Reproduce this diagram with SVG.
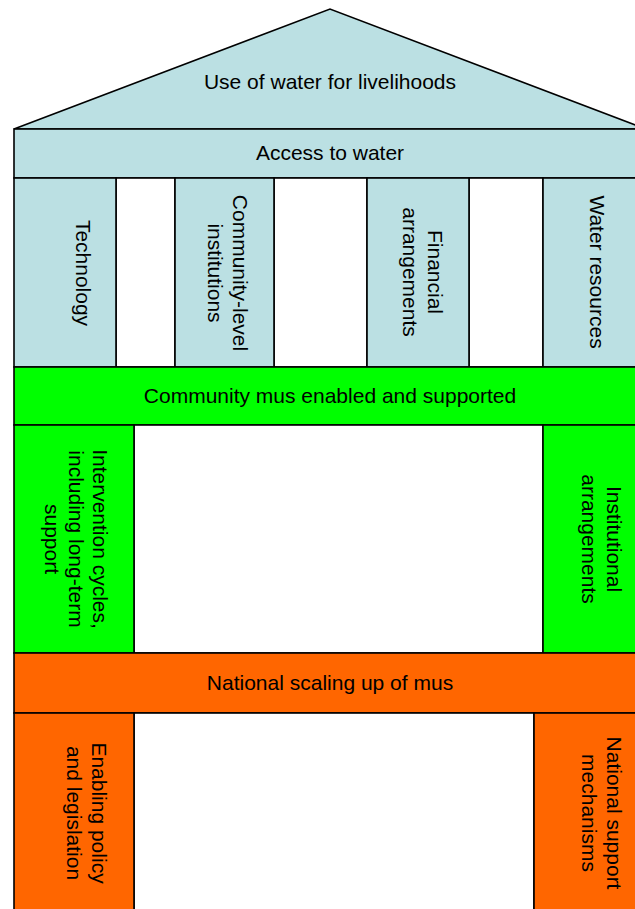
<svg xmlns="http://www.w3.org/2000/svg" width="635" height="909" viewBox="0 0 635 909">
<style>
.b{fill:#BBE0E3;stroke:#000;stroke-width:1.6}
.g{fill:#00FF00;stroke:#000;stroke-width:1.6}
.o{fill:#FF6600;stroke:#000;stroke-width:1.6}
.w{fill:#FFFFFF;stroke:#000;stroke-width:1.6}
text{font-family:"Liberation Sans",Arial,sans-serif;font-size:21px;fill:#000}
.c{text-anchor:middle}
</style>
<rect x="0" y="0" width="635" height="909" fill="#FFFFFF"/>
<g id="roof">
<polygon class="b" points="14,129 330,9 646,129"/>
<text class="c" x="330" y="89">Use of water for livelihoods</text>
</g>
<g id="access">
<rect class="b" x="14" y="129" width="632" height="49"/>
<text class="c" x="330" y="160">Access to water</text>
</g>
<g id="gaps-top">
<rect class="w" x="116" y="178" width="59" height="189"/>
<rect class="w" x="274" y="178" width="93" height="189"/>
<rect class="w" x="469" y="178" width="74" height="189"/>
</g>
<g id="technology">
<rect class="b" x="14" y="178" width="102" height="189"/>
<text class="c" transform="translate(76,273) rotate(90)">Technology</text>
</g>
<g id="community-institutions">
<rect class="b" x="175" y="178" width="99" height="189"/>
<text class="c" transform="translate(232.5,273) rotate(90)"><tspan x="0" dy="0">Community-level</tspan><tspan x="0" dy="24.7">institutions</tspan></text>
</g>
<g id="financial">
<rect class="b" x="367" y="178" width="102" height="189"/>
<text class="c" transform="translate(428,272) rotate(90)"><tspan x="0" dy="0">Financial</tspan><tspan x="0" dy="24.7">arrangements</tspan></text>
</g>
<g id="water-resources">
<rect class="b" x="543" y="178" width="103" height="189"/>
<text class="c" transform="translate(590,272) rotate(90)">Water resources</text>
</g>
<g id="community-mus">
<rect class="g" x="14" y="367" width="632" height="58"/>
<text class="c" x="330" y="403">Community mus enabled and supported</text>
</g>
<g id="gap-mid">
<rect class="w" x="134" y="425" width="409" height="228"/>
</g>
<g id="intervention">
<rect class="g" x="14" y="425" width="120" height="228"/>
<text class="c" transform="translate(93,539) rotate(90)"><tspan x="0" dy="0">Intervention cycles,</tspan><tspan x="0" dy="24">including long-term</tspan><tspan x="0" dy="24">support</tspan></text>
</g>
<g id="institutional">
<rect class="g" x="543" y="425" width="103" height="228"/>
<text class="c" transform="translate(607,539) rotate(90)"><tspan x="0" dy="0">Institutional</tspan><tspan x="0" dy="24.7">arrangements</tspan></text>
</g>
<g id="national-scaling">
<rect class="o" x="14" y="653" width="632" height="60"/>
<text class="c" x="330" y="690">National scaling up of mus</text>
</g>
<g id="gap-bottom">
<rect class="w" x="134" y="713" width="400" height="210"/>
</g>
<g id="enabling-policy">
<rect class="o" x="14" y="713" width="120" height="210"/>
<text class="c" transform="translate(92,813) rotate(90)"><tspan x="0" dy="0">Enabling policy</tspan><tspan x="0" dy="24.7">and legislation</tspan></text>
</g>
<g id="national-support">
<rect class="o" x="534" y="713" width="112" height="210"/>
<text class="c" transform="translate(607,813) rotate(90)"><tspan x="0" dy="0">National support</tspan><tspan x="0" dy="24.7">mechanisms</tspan></text>
</g>
</svg>
